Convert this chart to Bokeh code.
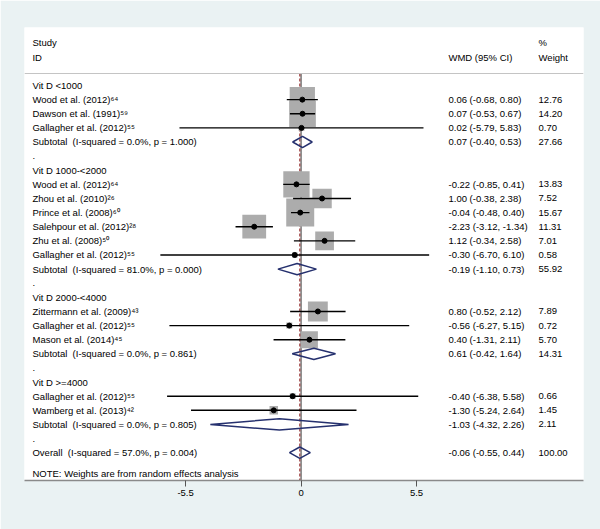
from bokeh.plotting import figure
from bokeh.models import FixedTicker, Span, ColumnDataSource
from bokeh.core.properties import value
from bokeh.embed import file_html
from bokeh.resources import INLINE
import math

# ---- data ----
group_titles = ["Vit D <1000", "Vit D 1000-<2000", "Vit D 2000-<4000", "Vit D >=4000"]

g1_names = ["Wood et al. (2012)⁶⁴", "Dawson et al. (1991)⁵⁹", "Gallagher et al. (2012)⁵⁵"]
g1_es = [0.06, 0.07, 0.02]
g1_lo = [-0.68, -0.53, -5.79]
g1_hi = [0.80, 0.67, 5.83]
g1_w = [12.76, 14.20, 0.70]

g2_names = ["Wood et al. (2012)⁶⁴", "Zhou et al. (2010)²⁶", "Prince et al. (2008)⁶⁰",
            "Salehpour et al. (2012)²⁸", "Zhu et al. (2008)⁵⁰", "Gallagher et al. (2012)⁵⁵"]
g2_es = [-0.22, 1.00, -0.04, -2.23, 1.12, -0.30]
g2_lo = [-0.85, -0.38, -0.48, -3.12, -0.34, -6.70]
g2_hi = [0.41, 2.38, 0.40, -1.34, 2.58, 6.10]
g2_w = [13.83, 7.52, 15.67, 11.31, 7.01, 0.58]

g3_names = ["Zittermann et al. (2009)⁴³", "Gallagher et al. (2012)⁵⁵", "Mason et al. (2014)⁴⁵"]
g3_es = [0.80, -0.56, 0.40]
g3_lo = [-0.52, -6.27, -1.31]
g3_hi = [2.12, 5.15, 2.11]
g3_w = [7.89, 0.72, 5.70]

g4_names = ["Gallagher et al. (2012)⁵⁵", "Wamberg et al. (2013)⁴²"]
g4_es = [-0.40, -1.30]
g4_lo = [-6.38, -5.24]
g4_hi = [5.58, 2.64]
g4_w = [0.66, 1.45]

sub_labels = ["Subtotal\u00a0\u00a0(I-squared = 0.0%, p = 1.000)",
              "Subtotal\u00a0\u00a0(I-squared = 81.0%, p = 0.000)",
              "Subtotal\u00a0\u00a0(I-squared = 0.0%, p = 0.861)",
              "Subtotal\u00a0\u00a0(I-squared = 0.0%, p = 0.805)"]
sub_es = [0.07, -0.19, 0.61, -1.03]
sub_lo = [-0.40, -1.10, -0.42, -4.32]
sub_hi = [0.53, 0.73, 1.64, 2.26]
sub_w = [27.66, 55.92, 14.31, 2.11]

overall_label = "Overall\u00a0\u00a0(I-squared = 57.0%, p = 0.004)"
overall_es = -0.06
overall_lo = -0.55
overall_hi = 0.44
overall_w = 100.00

x_ticks = [-5.5, 0, 5.5]
note = "NOTE: Weights are from random effects analysis"

# ---- layout of rows ----
groups = [(g1_names, g1_es, g1_lo, g1_hi, g1_w),
          (g2_names, g2_es, g2_lo, g2_hi, g2_w),
          (g3_names, g3_es, g3_lo, g3_hi, g3_w),
          (g4_names, g4_es, g4_lo, g4_hi, g4_w)]

lab_y, lab_t = [], []
wmd_t, wgt_t, col_y = [], [], []
st_y, st_es, st_lo, st_hi, st_w = [], [], [], [], []
dia = []  # (y, es, lo, hi)

r = 1
for gi, (names, es, lo, hi, w) in enumerate(groups):
    lab_y.append(-r); lab_t.append(group_titles[gi]); r += 1
    for n, e, l, h, ww in zip(names, es, lo, hi, w):
        lab_y.append(-r); lab_t.append(n)
        st_y.append(-r); st_es.append(e); st_lo.append(l); st_hi.append(h); st_w.append(ww)
        col_y.append(-r); wmd_t.append(f"{e:.2f} ({l:.2f}, {h:.2f})"); wgt_t.append(f"{ww:.2f}")
        r += 1
    lab_y.append(-r); lab_t.append(sub_labels[gi])
    dia.append((-r, sub_es[gi], sub_lo[gi], sub_hi[gi]))
    col_y.append(-r); wmd_t.append(f"{sub_es[gi]:.2f} ({sub_lo[gi]:.2f}, {sub_hi[gi]:.2f})"); wgt_t.append(f"{sub_w[gi]:.2f}")
    r += 1
    lab_y.append(-r); lab_t.append("."); r += 1
lab_y.append(-r); lab_t.append(overall_label)
dia.append((-r, overall_es, overall_lo, overall_hi))
col_y.append(-r); wmd_t.append(f"{overall_es:.2f} ({overall_lo:.2f}, {overall_hi:.2f})"); wgt_t.append(f"{overall_w:.2f}")
note_y = -(r + 1.5)

FONT = "Liberation Sans"
FS = "9.5px"
X0, X1 = -13.17, 13.45
Y0, Y1 = -28.97, 3.108
XL, XW, XG = -12.79, 7.02, 11.31

p = figure(width=600, height=529, x_range=(X0, X1), y_range=(Y0, Y1),
           output_backend="svg", toolbar_location=None, y_axis_location=None,
           min_border_left=24, min_border_right=17, min_border_top=27, min_border_bottom=49)
p.background_fill_color = "white"
p.border_fill_color = "#eaf2f3"
p.outline_line_color = None
p.xgrid.visible = False
p.ygrid.visible = False

# axis
p.xaxis.ticker = FixedTicker(ticks=x_ticks)
p.xaxis.major_label_overrides = {-5.5: "-5.5", 0: "0", 5.5: "5.5"}
p.xaxis.minor_tick_line_color = None
p.xaxis.major_tick_in = 0
p.xaxis.major_tick_out = 6
p.xaxis.axis_line_color = "#8a8a8a"
p.xaxis.axis_line_width = 1.5
p.xaxis.major_tick_line_color = "#555555"
p.xaxis.major_label_text_font = FONT
p.xaxis.major_label_text_font_size = FS
p.xaxis.major_label_text_color = "black"
p.xaxis.major_label_standoff = 3

# header separator
p.add_layout(Span(location=-0.15, dimension="width", line_color="#c4c4c4", line_width=1))

# null line and overall dashed line
p.segment(x0=[0], y0=[-0.15], x1=[0], y1=[Y0], line_color="#333333", line_width=1)
p.segment(x0=[overall_es], y0=[-0.15], x1=[overall_es], y1=[Y0], line_color="#9b3a3a",
          line_width=1.2, line_dash="3 2")

# boxes
sizes = [7.07 * math.sqrt(w) for w in st_w]
src = ColumnDataSource(dict(x=st_es, y=st_y, lo=st_lo, hi=st_hi, s=sizes))
p.rect(x="x", y="y", width="s", height="s", width_units="screen", height_units="screen",
       source=src, fill_color="#acacac", line_color=None)
p.segment(x0="lo", y0="y", x1="hi", y1="y", source=src, line_color="black", line_width=1.4)
p.scatter(x="x", y="y", source=src, size=5, color="black")

# diamonds
h = 0.4
xs = [[lo, es, hi, es] for (y, es, lo, hi) in dia]
ys = [[y, y + h, y, y - h] for (y, es, lo, hi) in dia]
p.patches(xs=xs, ys=ys, fill_alpha=0, line_color="#25306e", line_width=1.5)

# texts
def txt(x, y, t):
    p.text(x=x, y=y, text=t, text_font=value(FONT), text_font_size=FS,
           text_baseline="middle", text_align="left", text_color="black")

txt([XL] * len(lab_y), lab_y, lab_t)
txt([XW] * len(col_y), col_y, wmd_t)
txt([XG] * len(col_y), col_y, wgt_t)
txt([XL, XL, XW, XG, XG], [2.045, 0.983, 0.983, 2.045, 0.983],
    ["Study", "ID", "WMD (95% CI)", "%", "Weight"])
txt([XL], [note_y], [note])

open("out.html", "w").write(file_html(p, INLINE))
